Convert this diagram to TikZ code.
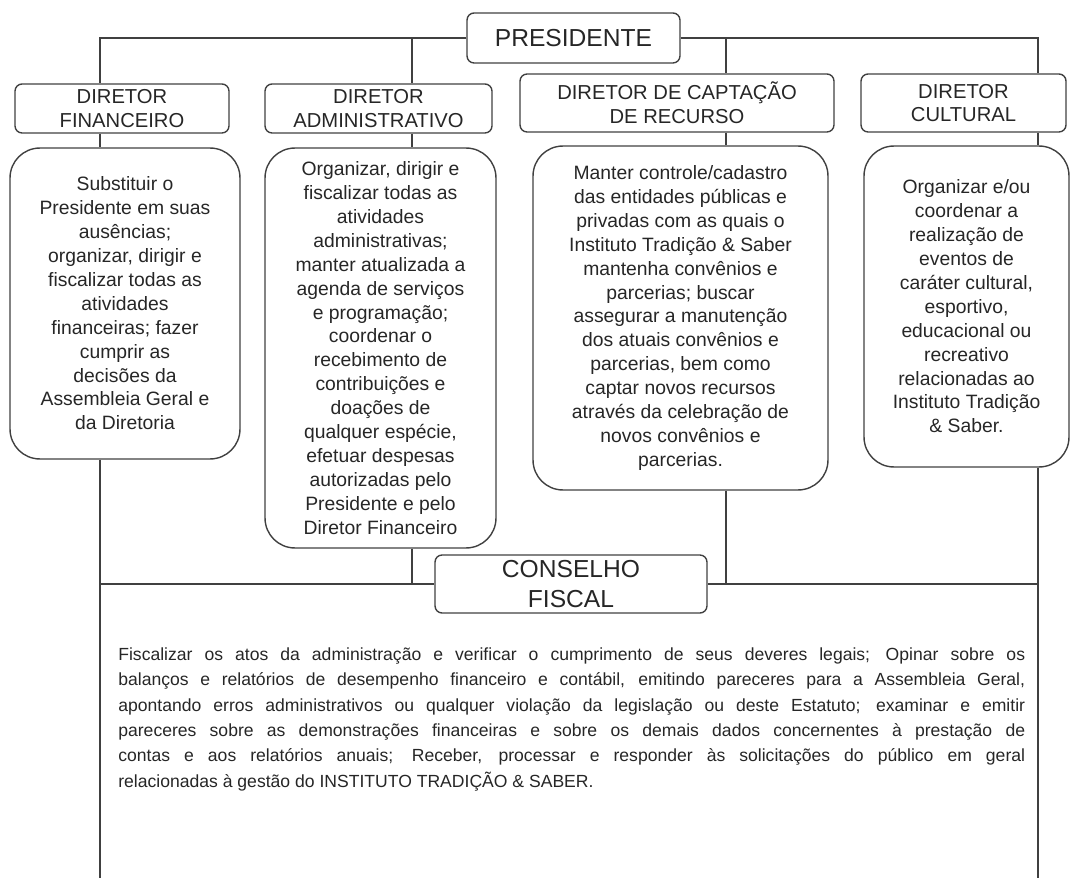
\documentclass[tikz,border=0pt]{standalone}
\usepackage{fontspec}
\setmainfont{Liberation Sans}
\begin{document}
\begin{tikzpicture}[x=0.02cm, y=-0.02cm,
  cargo/.style={draw=black!75, line width=0.8pt, rounded corners=4pt, inner sep=0pt, align=center, text=black!85, font=\fontsize{11.5}{13.6}\selectfont},
  desc/.style={draw=black!75, line width=0.8pt, rounded corners=17pt, inner sep=0pt, align=center, text=black!85, font=\fontsize{11}{13.6}\selectfont},
  liga/.style={draw=black!75, line width=0.8pt}]
\useasboundingbox (0,0) rectangle (1071,878);
% caixas dos cargos
\node[cargo, minimum width=4.26cm, minimum height=1.0cm, font=\fontsize{14}{16}\selectfont] (pres) at (573.5,38) {PRESIDENTE};
\node[cargo, minimum width=4.28cm, minimum height=0.98cm] (dfin) at (122,108.5) {DIRETOR\\FINANCEIRO};
\node[cargo, minimum width=4.54cm, minimum height=0.98cm] (dadm) at (378.5,108.5) {DIRETOR\\ADMINISTRATIVO};
\node[cargo, minimum width=6.28cm, minimum height=1.16cm] (dcap) at (677,103) {DIRETOR DE CAPTAÇÃO\\DE RECURSO};
\node[cargo, minimum width=4.10cm, minimum height=1.16cm] (dcul) at (963.5,103) {DIRETOR\\CULTURAL};
% atribuicoes
\node[desc, minimum width=4.6cm, minimum height=6.22cm] (sfin) at (125,303.5) {Substituir o\\Presidente em suas\\ausências;\\organizar, dirigir e\\fiscalizar todas as\\atividades\\financeiras; fazer\\cumprir as\\decisões da\\Assembleia Geral e\\da Diretoria};
\node[desc, minimum width=4.62cm, minimum height=8.0cm] (sadm) at (380.5,348) {Organizar, dirigir e\\fiscalizar todas as\\atividades\\administrativas;\\manter atualizada a\\agenda de serviços\\e programação;\\coordenar o\\recebimento de\\contribuições e\\doações de\\qualquer espécie,\\efetuar despesas\\autorizadas pelo\\Presidente e pelo\\Diretor Financeiro};
\node[desc, minimum width=5.9cm, minimum height=6.88cm] (scap) at (680.5,318) {Manter controle/cadastro\\das entidades públicas e\\privadas com as quais o\\Instituto Tradição \& Saber\\mantenha convênios e\\parcerias; buscar\\assegurar a manutenção\\dos atuais convênios e\\parcerias, bem como\\captar novos recursos\\através da celebração de\\novos convênios e\\parcerias.};
\node[desc, minimum width=4.1cm, minimum height=6.42cm] (scul) at (966.5,306.5) {Organizar e/ou\\coordenar a\\realização de\\eventos de\\caráter cultural,\\esportivo,\\educacional ou\\recreativo\\relacionadas ao\\Instituto Tradição\\\& Saber.};
% conselho fiscal
\node[cargo, minimum width=5.44cm, minimum height=1.16cm, font=\fontsize{14}{17}\selectfont] (cons) at (571,584) {CONSELHO\\FISCAL};
\node[anchor=north west, inner sep=0pt, text width=18.14cm, align=justify, text=black!85, font=\fontsize{10}{14.5}\selectfont] (ctexto) at (118,647) {Fiscalizar os atos da administração e verificar o cumprimento de seus deveres legais; Opinar sobre os\linebreak balanços e relatórios de desempenho financeiro e contábil, emitindo pareceres para a Assembleia Geral,\linebreak apontando erros administrativos ou qualquer violação da legislação ou deste Estatuto; examinar e emitir\linebreak pareceres sobre as demonstrações financeiras e sobre os demais dados concernentes à prestação de\linebreak contas e aos relatórios anuais; Receber, processar e responder às solicitações do público em geral\linebreak relacionadas à gestão do INSTITUTO TRADIÇÃO \& SABER.};
% pontos das ligacoes
\coordinate (c1) at (100,38);
\coordinate (c2) at (412,38);
\coordinate (c3) at (726,38);
\coordinate (c4) at (1038,38);
\coordinate (b1) at (100,584);
\coordinate (b2) at (412,584);
\coordinate (b3) at (726,584);
\coordinate (b4) at (1038,584);
\coordinate (e1) at (100,878);
\coordinate (e4) at (1038,878);
% ligacoes
\path[liga] (pres.west) -- (c1) -- (c1 |- dfin.north);
\path[liga] (pres.east) -- (c4) -- (c4 |- dcul.north);
\path[liga] (c2) -- (c2 |- dadm.north);
\path[liga] (c3) -- (c3 |- dcap.north);
\path[liga] (c1 |- dfin.south) -- (c1 |- sfin.north);
\path[liga] (c2 |- dadm.south) -- (c2 |- sadm.north);
\path[liga] (c3 |- dcap.south) -- (c3 |- scap.north);
\path[liga] (c4 |- dcul.south) -- (c4 |- scul.north);
\path[liga] (c1 |- sfin.south) -- (b1) -- (cons.west);
\path[liga] (c2 |- sadm.south) -- (b2);
\path[liga] (c3 |- scap.south) -- (b3);
\path[liga] (c4 |- scul.south) -- (b4) -- (cons.east);
\path[liga] (b1) -- (e1);
\path[liga] (b4) -- (e4);
\end{tikzpicture}
\end{document}
